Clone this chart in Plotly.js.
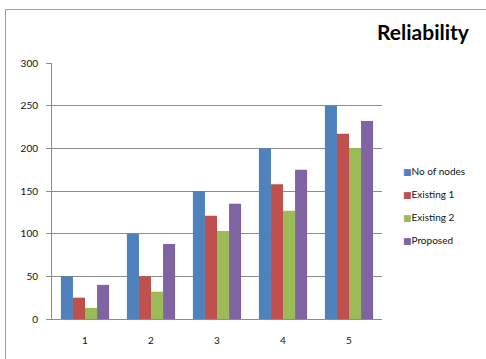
<!DOCTYPE html>
<html>
<head>
<meta charset="utf-8">
<script src="https://cdn.plot.ly/plotly-3.0.1.min.js"></script>
<style>
html,body{margin:0;padding:0;background:#fff;}
#wrap{position:relative;width:486px;height:359px;overflow:hidden;}
#chart{width:486px;height:359px;}
#frame{position:absolute;left:5px;top:9px;width:490px;height:360px;border-left:1px solid #a0a0a0;border-top:1px solid #a0a0a0;pointer-events:none;}
</style>
</head>
<body>
<div id="wrap"><div id="chart"></div><div id="frame"></div></div>
<script>
const categories = ["1", "2", "3", "4", "5"];
const seriesNames = ["No of nodes", "Existing 1", "Existing 2", "Proposed"];
const noOfNodes = [50, 100, 150, 200, 250];
const existing1 = [25, 50, 121, 158, 217];
const existing2 = [13, 32, 103, 127, 200];
const proposed = [40, 88, 135, 175, 232];
const yTicks = [0, 50, 100, 150, 200, 250, 300];

const colors = ["#4F81BD", "#C0504D", "#9BBB59", "#8064A2"];
const values = [noOfNodes, existing1, existing2, proposed];

const font = "Lato, 'Open Sans', 'DejaVu Sans', sans-serif";

const barTraces = values.map((v, i) => ({
  type: "bar",
  x: categories,
  y: v,
  name: seriesNames[i],
  showlegend: false,
  marker: {color: colors[i], line: {width: 0}},
  hoverinfo: "skip"
}));

// legend entries: compact square glyph next to the name, as in the reference
const legendTraces = seriesNames.map((n, i) => ({
  type: "scatter",
  mode: "markers",
  x: [null],
  y: [null],
  name: "<span style='color:" + colors[i] + ";font-family:DejaVu Sans;font-size:9px'>■</span>" + n,
  legendgroup: "g" + i,
  marker: {size: 1, color: "rgba(0,0,0,0)", line: {width: 0}},
  showlegend: true,
  hoverinfo: "skip"
}));

const plotL = 52, plotR = 382, plotT = 63, plotB = 319;

const layout = {
  width: 486,
  height: 359,
  margin: {l: plotL, r: 486 - plotR, t: plotT, b: 359 - plotB, pad: 0, autoexpand: false},
  paper_bgcolor: "#fff",
  plot_bgcolor: "#fff",
  barmode: "group",
  bargap: 0.27,
  bargroupgap: 0,
  showlegend: true,
  font: {family: font, size: 10, color: "#111"},
  title: {
    text: "<b>Reliability</b>",
    font: {family: font, size: 21, color: "#000"},
    xref: "container", yref: "container",
    x: 423 / 486, xanchor: "center",
    y: 1 - 33 / 359, yanchor: "middle"
  },
  xaxis: {
    type: "category",
    showgrid: false,
    showline: true,
    linecolor: "#8c8c8c",
    linewidth: 1,
    ticks: "",
    ticklabelstandoff: 12,
    tickfont: {family: font, size: 10, color: "#111"},
    fixedrange: true
  },
  yaxis: {
    range: [0, 300],
    tickvals: yTicks,
    ticktext: yTicks.map(String),
    showgrid: true,
    gridcolor: "#8c8c8c",
    gridwidth: 1,
    showline: true,
    linecolor: "#8c8c8c",
    linewidth: 1,
    ticks: "outside",
    ticklen: 5,
    tickcolor: "#8c8c8c",
    ticklabelstandoff: 6,
    zeroline: false,
    tickfont: {family: font, size: 10, color: "#111"},
    fixedrange: true
  },
  legend: {
    x: (363 - plotL) / (plotR - plotL), xref: "paper", xanchor: "left",
    y: (plotB - 157) / (plotB - plotT), yref: "paper", yanchor: "top",
    bgcolor: "rgba(0,0,0,0)",
    borderwidth: 0,
    font: {family: font, size: 10, color: "#111"},
    traceorder: "grouped",
    tracegroupgap: 4,
    itemwidth: 30
  }
};

Plotly.newPlot("chart", barTraces.concat(legendTraces), layout, {displayModeBar: false, staticPlot: true});
</script>
</body>
</html>
